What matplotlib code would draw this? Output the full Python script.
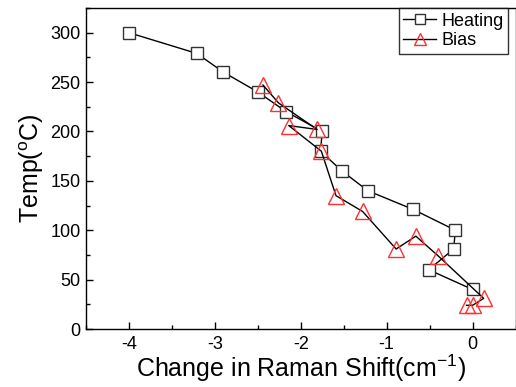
import matplotlib
matplotlib.use("Agg")
import matplotlib.pyplot as plt
from matplotlib.ticker import MultipleLocator

plt.rcParams['font.family'] = ['Liberation Sans', 'DejaVu Sans']

heat_x = [-4.0, -3.21, -2.90, -2.50, -2.17, -1.75, -1.77, -1.52, -1.22, -0.69, -0.20, -0.22, -0.51, 0.0]
heat_y = [300, 279, 260, 240, 220, 200, 180, 160, 140, 121, 100, 81, 60, 40]

bias_x = [-2.44, -2.26, -1.81, -2.14, -1.76, -1.59, -1.28, -0.89, -0.66, -0.40, 0.13, 0.0, -0.07]
bias_y = [247, 229, 202, 206, 180, 135, 119, 81, 94, 74, 31, 24, 24]

fig = plt.figure(figsize=(5.16, 3.87), dpi=100)
ax = fig.add_axes([86/516, 1-329/387, 429.5/516, 321/387])

ax.plot(heat_x, heat_y, color='black', lw=1.0, marker='s', ms=8.5, mfc='white',
        mec='#333333', mew=1.0, label='Heating', zorder=2)
ax.plot(bias_x, bias_y, color='black', lw=1.0, marker='^', ms=11, mfc='none',
        mec='#ff3030', mew=1.0, label='Bias', zorder=3)

ax.set_xlim(-4.5, 0.5)
ax.set_ylim(0, 325)
ax.xaxis.set_major_locator(MultipleLocator(1))
ax.xaxis.set_minor_locator(MultipleLocator(0.5))
ax.yaxis.set_major_locator(MultipleLocator(50))
ax.yaxis.set_minor_locator(MultipleLocator(25))
ax.tick_params(which='both', direction='in', labelsize=13, top=False, right=False)
ax.tick_params(which='major', length=5, width=1)
ax.tick_params(which='minor', length=3, width=1)
ax.tick_params(axis='y', pad=4)
ax.tick_params(axis='x', pad=5)
ax.set_xticks([-4, -3, -2, -1, 0])
ax.set_xticklabels(['-4', '-3', '-2', '-1', '0'])
for s in ax.spines.values():
    s.set_linewidth(1.0)

ax.set_xlabel('Change in Raman Shift(cm$^{\\mathdefault{-1}}$)', fontsize=18, labelpad=0)
ax.set_ylabel('Temp($^{\\mathdefault{o}}$C)', fontsize=18, labelpad=3)

leg = ax.legend(loc='upper right', fontsize=13, frameon=True, fancybox=False,
                edgecolor='black', handlelength=1.8, handletextpad=0.3,
                borderpad=0.25, labelspacing=0.15, borderaxespad=0.0,
                bbox_to_anchor=(508/516, 1-8/387), bbox_transform=fig.transFigure,
                markerscale=0.85)
leg.get_frame().set_linewidth(1.0)

fig.savefig('out.png', dpi=100)
